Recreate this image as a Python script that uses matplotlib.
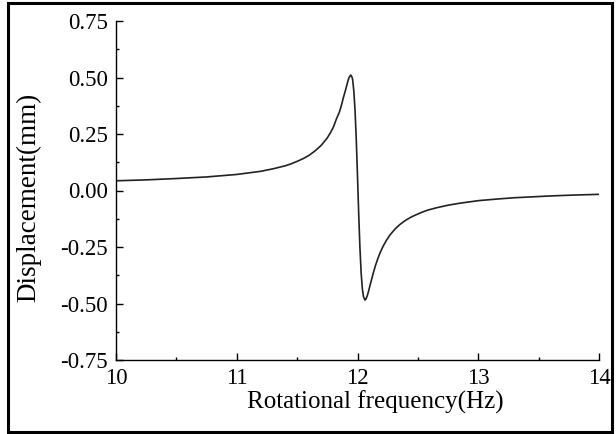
import numpy as np
import matplotlib
matplotlib.use("Agg")
import matplotlib.pyplot as plt
from matplotlib.patches import Rectangle
from matplotlib.ticker import MultipleLocator, FormatStrFormatter

plt.rcParams["font.family"] = ["Liberation Serif", "DejaVu Serif"]
plt.rcParams["axes.unicode_minus"] = False

# values
freq = [10.0, 10.25, 10.5, 10.75, 11.0, 11.2, 11.3, 11.4, 11.45, 11.5, 11.55,
        11.6, 11.65, 11.7, 11.75, 11.775, 11.8, 11.825, 11.85, 11.865, 11.88,
        11.9, 11.91, 11.92, 11.93, 11.944, 11.955, 11.96, 11.97, 11.98, 11.99,
        12.0, 12.01, 12.02, 12.03, 12.04, 12.05, 12.062, 12.07, 12.08, 12.09,
        12.1, 12.11, 12.12, 12.13, 12.15, 12.17, 12.19, 12.21, 12.24, 12.27,
        12.31, 12.35, 12.4, 12.45, 12.52, 12.58, 12.65, 12.75, 12.85, 13.0,
        13.15, 13.3, 13.6, 13.8, 14.0]
disp = [0.043, 0.047, 0.053, 0.060, 0.071, 0.085, 0.096, 0.109, 0.118, 0.129,
        0.141, 0.156, 0.176, 0.200, 0.233, 0.255, 0.280, 0.316, 0.347, 0.373,
        0.405, 0.443, 0.463, 0.483, 0.500, 0.511, 0.501, 0.490, 0.437, 0.350,
        0.223, 0.064, -0.103, -0.251, -0.363, -0.434, -0.471, -0.485, -0.480,
        -0.467, -0.449, -0.428, -0.407, -0.387, -0.366, -0.330, -0.299, -0.272,
        -0.249, -0.220, -0.196, -0.171, -0.151, -0.131, -0.116, -0.099, -0.087,
        -0.077, -0.065, -0.056, -0.045, -0.038, -0.032, -0.024, -0.020, -0.017]

fig = plt.figure(figsize=(6.16, 4.34), dpi=100)
ax = fig.add_axes([116 / 616, 74 / 434, 483 / 616, 339 / 434])

ax.plot(freq, disp, color="#222222", lw=1.2)

ax.set_xlim(10, 14)
ax.set_ylim(-0.75, 0.75)
ax.xaxis.set_major_locator(MultipleLocator(1))
ax.xaxis.set_minor_locator(MultipleLocator(0.5))
ax.yaxis.set_major_locator(MultipleLocator(0.25))
ax.yaxis.set_minor_locator(MultipleLocator(0.125))
ax.yaxis.set_major_formatter(FormatStrFormatter("%.2f"))

for s in ["top", "right"]:
    ax.spines[s].set_visible(False)
for s in ["left", "bottom"]:
    ax.spines[s].set_linewidth(1.0)

ax.tick_params(which="major", direction="in", length=5, width=1.0,
               labelsize=16.5)
ax.tick_params(axis="x", which="major", pad=6)
ax.tick_params(axis="y", which="major", pad=6)
ax.tick_params(which="minor", direction="in", length=2.5, width=1.0)

ax.set_xlabel("Rotational frequency(Hz)", fontsize=18)
ax.set_ylabel("Displacement(mm)", fontsize=19.5)
ax.xaxis.set_label_coords(0.536, -0.09)
ax.yaxis.set_label_coords(-0.155, 0.479)

fig.patches.append(Rectangle((7.5 / 616, 2.5 / 434), 604 / 616, 429 / 434,
                             transform=fig.transFigure, fill=False,
                             edgecolor="black", lw=2.2))

fig.savefig("out.png", dpi=100)
